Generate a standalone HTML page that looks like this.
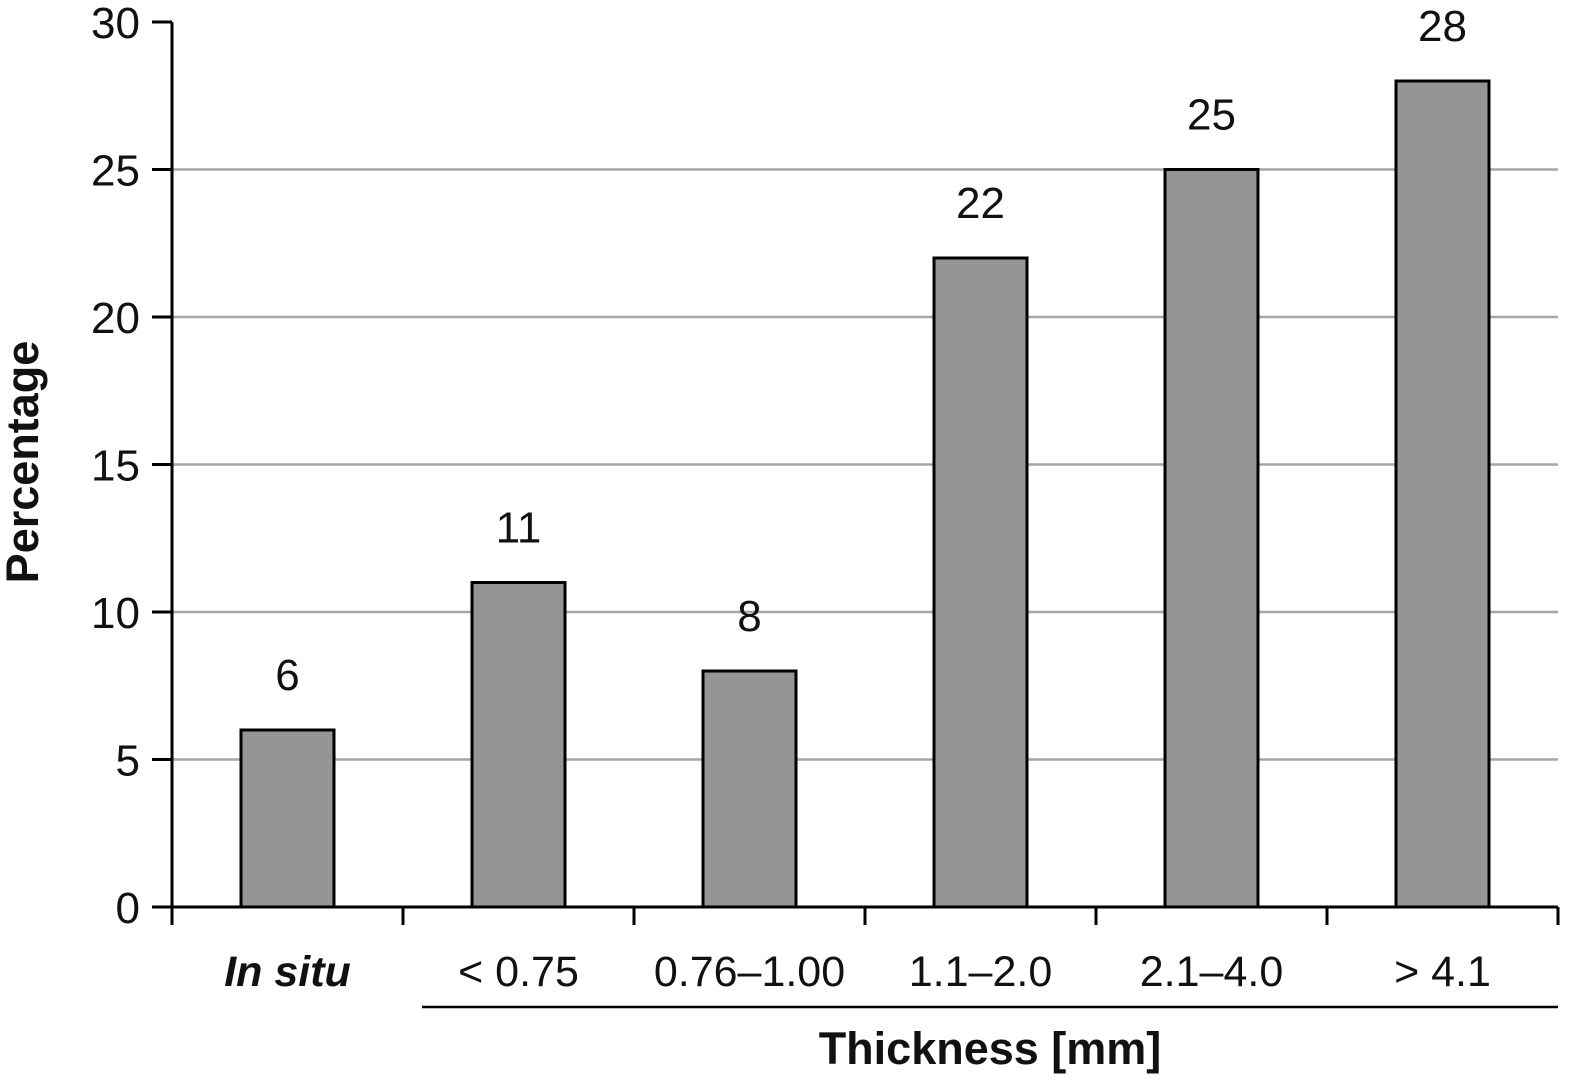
<!DOCTYPE html>
<html><head><meta charset="utf-8"><style>
body{margin:0;background:#fff;}
svg{display:block;font-family:"Liberation Sans","DejaVu Sans",sans-serif;}
</style></head><body>
<svg id="chart" width="1585" height="1087" viewBox="0 0 1585 1087"></svg>
<script>
const categories=["In situ","< 0.75","0.76–1.00","1.1–2.0","2.1–4.0","> 4.1"];
const values=[6,11,8,22,25,28];
const yTicks=[0,5,10,15,20,25,30];
const NS="http://www.w3.org/2000/svg";
const svg=document.getElementById("chart");
const L=172,R=1558,T=22,B=907,yMax=30;
const band=(R-L)/categories.length;
function y(v){return B-(v/yMax)*(B-T);}
function x(i){return L+band*(i+0.5);}
function mk(tag,attrs,parent){const e=document.createElementNS(NS,tag);for(const k in attrs)e.setAttribute(k,attrs[k]);(parent||svg).appendChild(e);return e;}
yTicks.forEach(t=>{
  if(t>0&&t<yMax){const g=mk("line",{x1:L,x2:R,y1:y(t),y2:y(t),stroke:"#a6a6a6","stroke-width":2.5});
  
  }
  const tk=mk("line",{x1:152,x2:L,y1:y(t),y2:y(t),stroke:"#000","stroke-width":3});
  
  
  const tl=mk("text",{x:140,y:y(t)+16,"text-anchor":"end","font-size":44,fill:"#111"});
  tl.textContent=t;
  
  
});
values.forEach((v,i)=>{
  const bw=93;
  const b=mk("rect",{x:x(i)-bw/2,y:y(v),width:bw,height:B-y(v),fill:"#959595",stroke:"#000","stroke-width":3});
  
  
  const lb=mk("text",{x:x(i),y:y(v)-40,"text-anchor":"middle","font-size":44,fill:"#111"});
  lb.textContent=v;
  
  
  const cl=mk("text",{x:x(i),y:986,"text-anchor":"middle","font-size":43,fill:"#111"});
  cl.textContent=categories[i];
  if(i===0){cl.setAttribute("font-style","italic");cl.setAttribute("font-weight","bold");}
  
  
});
for(let i=0;i<=categories.length;i++){
  const tk=mk("line",{x1:L+band*i,x2:L+band*i,y1:B,y2:925,stroke:"#000","stroke-width":3});
  
  
}
const ya=mk("line",{x1:L,x2:L,y1:T,y2:925,stroke:"#000","stroke-width":3});


const xa=mk("line",{x1:152,x2:R,y1:B,y2:B,stroke:"#000","stroke-width":3});


const ul=mk("line",{x1:422,x2:R,y1:1007,y2:1007,stroke:"#000","stroke-width":2.5});


const xt=mk("text",{x:990,y:1064,"text-anchor":"middle","font-size":45,"font-weight":"bold",fill:"#111"});
xt.textContent="Thickness [mm]";


const yt=mk("text",{x:0,y:0,"text-anchor":"middle","font-size":45,"font-weight":"bold",fill:"#111",transform:"translate(38,462) rotate(-90)"});
yt.textContent="Percentage";


</script>
</body></html>
